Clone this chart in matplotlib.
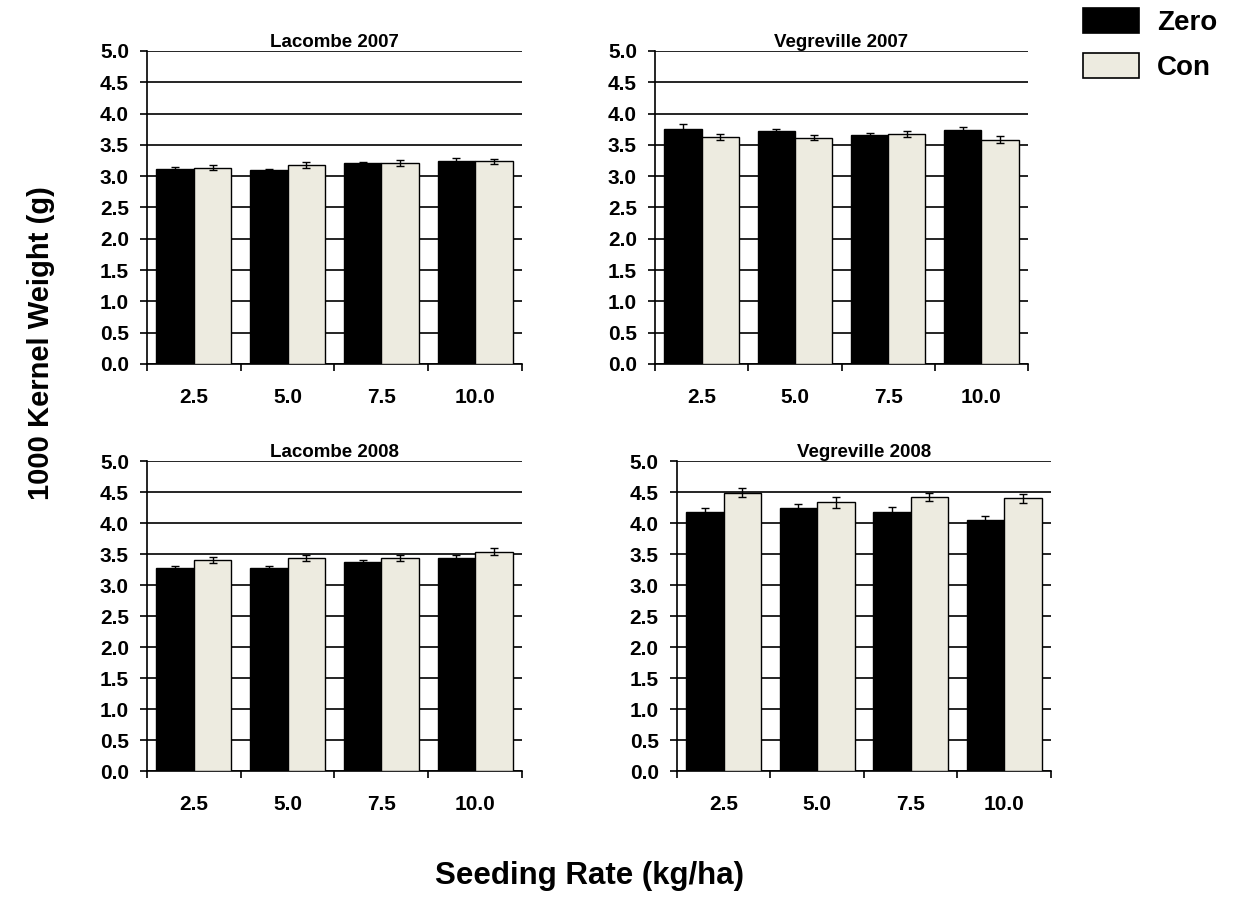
import matplotlib
matplotlib.use('Agg')
from matplotlib import pyplot
from matplotlib.patches import Patch
import numpy

pyplot.rcParams['font.family'] = ['Liberation Sans', 'DejaVu Sans']
pyplot.rcParams['font.weight'] = 'bold'

rates = ['2.5', '5.0', '7.5', '10.0']
titles = ['Lacombe 2007', 'Vegreville 2007', 'Lacombe 2008', 'Vegreville 2008']

zero_vals = [
    [3.12, 3.10, 3.21, 3.24],
    [3.76, 3.72, 3.655, 3.74],
    [3.27, 3.27, 3.37, 3.44],
    [4.18, 4.25, 4.18, 4.05],
]
zero_err = [
    [0.02, 0.02, 0.02, 0.05],
    [0.07, 0.04, 0.04, 0.04],
    [0.04, 0.04, 0.035, 0.04],
    [0.06, 0.065, 0.08, 0.06],
]
con_vals = [
    [3.13, 3.18, 3.21, 3.24],
    [3.63, 3.61, 3.675, 3.585],
    [3.40, 3.43, 3.43, 3.54],
    [4.49, 4.335, 4.42, 4.40],
]
con_err = [
    [0.04, 0.05, 0.05, 0.04],
    [0.05, 0.04, 0.05, 0.05],
    [0.05, 0.05, 0.05, 0.05],
    [0.07, 0.09, 0.07, 0.07],
]

con_color = '#EDEBE0'

# axes boxes in figure fractions (left, bottom, width, height)
boxes = [
    [0.119, 0.5947, 0.3036, 0.3486],
    [0.5304, 0.5947, 0.302, 0.3486],
    [0.119, 0.1414, 0.3036, 0.3452],
    [0.548, 0.1414, 0.303, 0.3452],
]

fig = pyplot.figure(figsize=(12.35, 8.98), dpi=100)

x = numpy.arange(len(rates))
w = 0.40

for k in range(4):
    ax = fig.add_axes(boxes[k])
    ax.bar(x - w / 2, zero_vals[k], w, color='black', edgecolor='black',
           linewidth=1, zorder=3)
    ax.bar(x + w / 2, con_vals[k], w, color=con_color, edgecolor='black',
           linewidth=1, zorder=3)
    ax.errorbar(x - w / 2, zero_vals[k], yerr=zero_err[k], fmt='none',
                ecolor='black', elinewidth=1, capsize=3, capthick=1, zorder=4)
    ax.errorbar(x + w / 2, con_vals[k], yerr=con_err[k], fmt='none',
                ecolor='black', elinewidth=1, capsize=3, capthick=1, zorder=4)

    ax.set_xlim(-0.5, 3.5)
    ax.set_ylim(0, 5.0)
    ax.set_yticks(numpy.arange(0, 5.01, 0.5))
    ax.set_yticklabels(['{:.1f}'.format(v) for v in numpy.arange(0, 5.01, 0.5)])
    ax.yaxis.grid(True, color='black', linewidth=1.2, zorder=0)
    ax.set_axisbelow(True)

    # tick marks between categories, labels at the centres
    ax.set_xticks(numpy.arange(-0.5, 3.51, 1.0))
    ax.set_xticklabels([])
    ax.set_xticks(x, minor=True)
    ax.set_xticklabels(rates, minor=True)
    ax.tick_params(axis='x', which='major', direction='out', length=5, width=1.2)
    ax.tick_params(axis='x', which='minor', length=0, pad=17, labelsize=15)
    ax.tick_params(axis='y', direction='out', length=5, width=1.2, pad=8,
                   labelsize=15)

    for s in ['top', 'right']:
        ax.spines[s].set_visible(False)
    for s in ['left', 'bottom']:
        ax.spines[s].set_linewidth(1.2)

    ax.set_title(titles[k], fontsize=13.5, fontweight='bold', pad=3)

fig.text(0.033, 0.618, '1000 Kernel Weight (g)', rotation=90, fontsize=21,
         fontweight='bold', ha='center', va='center')
fig.text(0.477, 0.024, 'Seeding Rate (kg/ha)', fontsize=22.5,
         fontweight='bold', ha='center', va='center')

handles = [Patch(facecolor='black', edgecolor='black', linewidth=1.2),
           Patch(facecolor=con_color, edgecolor='black', linewidth=1.2)]
fig.legend(handles, ['Zero', 'Con'], loc='upper right',
           bbox_to_anchor=(1.006, 1.019), frameon=False,
           prop={'size': 20, 'weight': 'bold'},
           handlelength=2.02, handleheight=1.0, labelspacing=0.62,
           handletextpad=0.65)

pyplot.savefig('out.png', dpi=100)
